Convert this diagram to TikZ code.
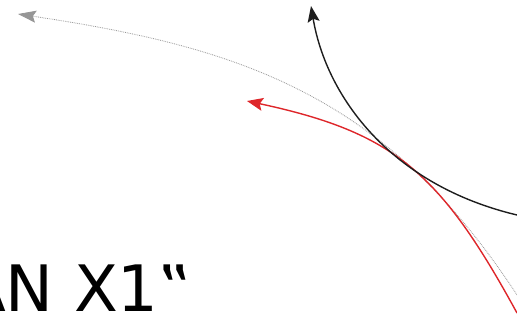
\documentclass[tikz,border=0pt]{standalone}
\usepackage{fontspec}
\setmainfont{DejaVu Sans}
\usepackage{xcolor}
\usepackage{tikz}
\usetikzlibrary{arrows.meta}
\definecolor{trackGray}{RGB}{150,150,150}
\definecolor{trackRed}{RGB}{222,38,42}
\definecolor{trackBlack}{RGB}{30,30,30}

\begin{document}
\begin{tikzpicture}[x=1pt,y=-1pt]
\useasboundingbox (0,0) rectangle (517,320);
\clip (0,0) rectangle (517,320);

\coordinate (grayStart) at (517,295);
\coordinate (grayEnd) at (18,14);
\coordinate (redStart) at (517,313);
\coordinate (redEnd) at (247,101);
\coordinate (blackStart) at (517,215);
\coordinate (blackEnd) at (311,6);

\draw[trackGray, line width=0.8pt, densely dotted, -{Stealth[length=18pt,width=12pt,inset=3pt]}]
  (grayStart) .. controls (385,93) and (238,47) .. (grayEnd);
\draw[trackRed, line width=1.4pt, -{Stealth[length=16pt,width=13pt,inset=3pt]}]
  (redStart) .. controls (440,172) and (394,132.5) .. (redEnd);
\draw[trackBlack, line width=1.4pt, -{Stealth[length=16pt,width=12pt,inset=3pt]}]
  (blackStart) .. controls (391,185) and (326.4,97.1) .. (blackEnd);

\node[anchor=base west, inner sep=0pt, font=\fontsize{64}{64}\selectfont] (planLabel) at (-38,312) {AN X1‟};
\end{tikzpicture}
\end{document}
